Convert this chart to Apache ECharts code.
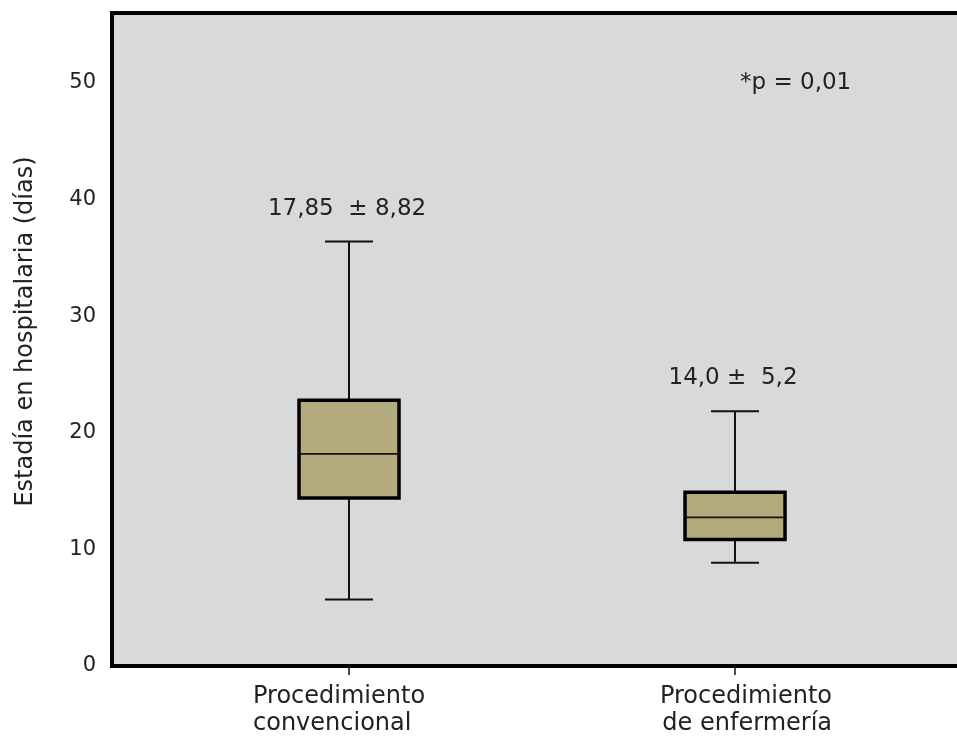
<!DOCTYPE html>
<html>
<head>
<meta charset="utf-8">
<script src="https://cdn.jsdelivr.net/npm/echarts@6/dist/echarts.min.js"></script>
<style>
  html, body { margin: 0; padding: 0; background: #fff; }
  #box { width: 957px; height: 736px; }
</style>
</head>
<body>
<div id="box"></div>
<script>
// valores
var categories = ['Procedimiento\nconvencional', 'Procedimiento\nde enfermería'];
var positions = [0, 1];
var mins    = [5.7, 8.85];
var q1s     = [14.4, 10.85];
var medians = [18.2, 12.75];
var q3s     = [22.8, 14.9];
var maxs    = [36.4, 21.85];
var meanLabels = ['17,85  ± 8,82', '14,0 ±  5,2'];
var yTicks = [0, 10, 20, 30, 40, 50];

var font = 'DejaVu Sans';

var boxData = positions.map(function (p, i) {
    return [p, mins[i], q1s[i], medians[i], q3s[i], maxs[i]];
});

function renderBox(params, api) {
    var x = api.value(0);
    var pMin = api.coord([x, api.value(1)]);
    var pQ1 = api.coord([x, api.value(2)]);
    var pMed = api.coord([x, api.value(3)]);
    var pQ3 = api.coord([x, api.value(4)]);
    var pMax = api.coord([x, api.value(5)]);
    var cx = pMed[0];
    var boxW = 100, capW = 48;
    var lineStyle = { stroke: '#111', lineWidth: 2 };
    return {
        type: 'group',
        children: [
            { type: 'line', shape: { x1: cx, y1: pMax[1], x2: cx, y2: pQ3[1] }, style: lineStyle },
            { type: 'line', shape: { x1: cx, y1: pQ1[1], x2: cx, y2: pMin[1] }, style: lineStyle },
            { type: 'line', shape: { x1: cx - capW / 2, y1: pMax[1], x2: cx + capW / 2, y2: pMax[1] }, style: lineStyle },
            { type: 'line', shape: { x1: cx - capW / 2, y1: pMin[1], x2: cx + capW / 2, y2: pMin[1] }, style: lineStyle },
            { type: 'rect', shape: { x: cx - boxW / 2, y: pQ3[1], width: boxW, height: pQ1[1] - pQ3[1] },
              style: { fill: '#b3ab7d', stroke: '#000', lineWidth: 3.5 } },
            { type: 'line', shape: { x1: cx - boxW / 2, y1: pMed[1], x2: cx + boxW / 2, y2: pMed[1] },
              style: { stroke: '#111', lineWidth: 1.8 } },
            { type: 'text', x: cx - 2, y: pMax[1] - 33,
              style: { text: meanLabels[params.dataIndex], fill: '#222', font: '23px "' + font + '"',
                       textAlign: 'center', textVerticalAlign: 'middle' } }
        ]
    };
}

var labelText = { color: '#222', fontFamily: font, fontSize: 24, lineHeight: 27 };

var chart = echarts.init(document.getElementById('box'));
var option = {
    animation: false,
    backgroundColor: '#fff',
    grid: {
        left: 112, top: 13, right: -5, bottom: 70,
        outerBoundsMode: 'none',
        containLabel: false,
        show: true,
        backgroundColor: '#d9d9d9',
        borderColor: '#000',
        borderWidth: 4
    },
    graphic: [{
        type: 'text', left: 740, top: 72,
        style: { text: '*p = 0,01', fill: '#222', font: '23px "' + font + '"' }
    }],
    xAxis: {
        type: 'value',
        min: -0.614,
        max: 1.588,
        splitLine: { show: false },
        axisLine: { show: false },
        axisTick: { show: true, customValues: positions, length: 9, lineStyle: { color: '#111', width: 1.5 } },
        axisLabel: {
            customValues: positions,
            margin: 17,
            color: '#222',
            fontFamily: font,
            fontSize: 24,
            lineHeight: 27,
            formatter: function (v) {
                var i = Math.round(v);
                var key = i === 0 ? 'l' : 'r';
                return categories[i].split('\n').map(function (s) {
                    return '{' + key + '|' + s + '}';
                }).join('\n');
            },
            rich: {
                l: Object.assign({ width: 192, align: 'left' }, labelText),
                r: Object.assign({ width: 194, align: 'right' }, labelText)
            }
        }
    },
    yAxis: {
        type: 'value',
        min: 0,
        max: 56,
        interval: 10,
        name: 'Estadía en hospitalaria (días)',
        nameLocation: 'middle',
        nameGap: 74,
        nameTextStyle: { color: '#222', fontFamily: font, fontSize: 24, padding: [0, 0, 0, 16] },
        splitLine: { show: false },
        axisLine: { show: false },
        axisTick: { show: false },
        axisLabel: {
            margin: 16,
            color: '#222',
            fontFamily: font,
            fontSize: 21,
            formatter: function (v) { return yTicks.indexOf(v) >= 0 ? String(v) : ''; }
        }
    },
    series: [{
        type: 'custom',
        renderItem: renderBox,
        data: boxData,
        encode: { x: 0, y: [1, 2, 3, 4, 5] },
        clip: false
    }]
};
chart.setOption(option);
</script>
</body>
</html>
